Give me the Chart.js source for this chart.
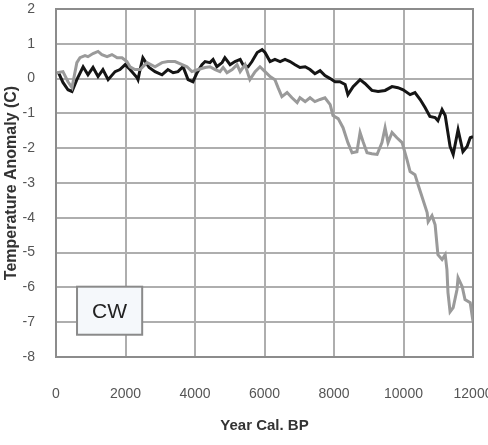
<!DOCTYPE html>
<html>
<head>
<meta charset="utf-8">
<script src="https://cdn.jsdelivr.net/npm/chart.js@4/dist/chart.umd.min.js"></script>
<style>
  html, body { margin: 0; padding: 0; background: #fff; }
  #wrap { width: 488px; height: 445px; }
</style>
</head>
<body>
<div id="wrap"><canvas id="cwChart" width="488" height="445"></canvas></div>
<script>
// Temperature anomaly records (years cal. BP vs degrees C)
const darkYears = [60, 200, 345, 460, 600, 780, 920, 1065, 1210, 1350, 1500, 1700, 1840, 1990, 2130, 2330, 2360, 2420, 2500, 2680, 2850,
  3050, 3220, 3370, 3510, 3655, 3800, 3940, 4060, 4200, 4290, 4430, 4520, 4630, 4780, 4860, 5010, 5150, 5300, 5380, 5530, 5640, 5790, 5930,
  6015, 6160, 6300, 6450, 6590, 6735, 6880, 7020, 7170, 7310, 7450, 7600, 7740, 7890, 8030, 8170, 8320, 8400, 8550, 8750, 8890,
  9090, 9270, 9470, 9670, 9840, 9990, 10190, 10330, 10480, 10620, 10760, 10910, 10990, 11110, 11200, 11340, 11430, 11570, 11710, 11830, 11920, 12000];
const darkTemps = [0.20, -0.11, -0.32, -0.37, -0.03, 0.34, 0.11, 0.32, 0.06, 0.26, -0.03, 0.20, 0.26, 0.40, 0.26, 0.03, -0.03, 0.26, 0.60, 0.32, 0.20,
  0.11, 0.26, 0.17, 0.20, 0.34, -0.03, -0.09, 0.17, 0.40, 0.49, 0.46, 0.55, 0.34, 0.46, 0.60, 0.40, 0.49, 0.55, 0.40, 0.34, 0.49, 0.75, 0.83,
  0.75, 0.49, 0.55, 0.49, 0.55, 0.49, 0.40, 0.32, 0.34, 0.26, 0.14, 0.23, 0.09, 0.00, -0.09, -0.09, -0.17, -0.46, -0.23, -0.03, -0.14,
  -0.34, -0.37, -0.34, -0.23, -0.26, -0.32, -0.46, -0.40, -0.60, -0.83, -1.09, -1.12, -1.21, -0.89, -1.06, -1.95, -2.18, -1.47, -2.10, -1.95, -1.70, -1.67];

const greyYears = [30, 200, 345, 460, 600, 690, 835, 920, 1065, 1210, 1320, 1470, 1610, 1760, 1900, 2040, 2130, 2270, 2420, 2620, 2850,
  3050, 3220, 3425, 3630, 3770, 3910, 4090, 4290, 4430, 4580, 4720, 4810, 4920, 5070, 5210, 5300, 5440, 5580, 5730, 5870, 6015,
  6160, 6300, 6390, 6500, 6650, 6790, 6940, 7020, 7170, 7310, 7450, 7600, 7740, 7890, 7970, 8120, 8260, 8400, 8520, 8660, 8750, 8835,
  8950, 9090, 9240, 9380, 9470, 9555, 9670, 9810, 9960, 10100, 10190, 10330, 10420, 10530, 10680, 10710, 10820, 10910, 10990, 11110,
  11200, 11250, 11280, 11340, 11430, 11540, 11570, 11690, 11770, 11920, 12000];
const greyTemps = [0.17, 0.20, -0.09, -0.26, 0.46, 0.60, 0.66, 0.63, 0.72, 0.78, 0.69, 0.63, 0.69, 0.60, 0.60, 0.49, 0.34, 0.26, 0.26, 0.46, 0.34,
  0.46, 0.49, 0.49, 0.40, 0.34, 0.20, 0.26, 0.32, 0.34, 0.26, 0.20, 0.32, 0.17, 0.26, 0.40, 0.20, 0.40, -0.03, 0.20, 0.34, 0.20,
  0.06, -0.03, -0.26, -0.52, -0.40, -0.55, -0.69, -0.55, -0.66, -0.55, -0.66, -0.60, -0.55, -0.75, -1.06, -1.15, -1.41, -1.84, -2.13, -2.10, -1.55, -1.81,
  -2.13, -2.16, -2.18, -1.84, -1.41, -1.84, -1.55, -1.70, -1.84, -2.33, -2.67, -2.76, -3.05, -3.39, -3.85, -4.11, -3.94, -4.20, -5.06, -5.20,
  -5.06, -5.49, -6.15, -6.70, -6.58, -6.06, -5.72, -5.98, -6.35, -6.44, -6.98];

const xTicks = [0, 2000, 4000, 6000, 8000, 10000, 12000];
const yTicks = [2, 1, 0, -1, -2, -3, -4, -5, -6, -7, -8];
const siteLabel = 'CW';

function toPoints(xs, ys) {
  return xs.map((x, i) => ({ x: x, y: ys[i] }));
}

// grid and plot frame, drawn from the tick arrays through the scales
const plotGrid = {
  id: 'plotGrid',
  beforeDatasetsDraw(chart) {
    const { ctx, chartArea: a, scales } = chart;
    ctx.save();
    ctx.strokeStyle = '#aeaeae';
    ctx.lineWidth = 2;
    ctx.beginPath();
    xTicks.forEach(v => {
      const px = Math.round(scales.x.getPixelForValue(v));
      ctx.moveTo(px, a.top);
      ctx.lineTo(px, a.bottom);
    });
    yTicks.forEach(v => {
      const py = Math.round(scales.y.getPixelForValue(v));
      ctx.moveTo(a.left, py);
      ctx.lineTo(a.right, py);
    });
    ctx.stroke();
    ctx.strokeStyle = '#8c8c8c';
    ctx.strokeRect(Math.round(a.left), Math.round(a.top), Math.round(a.right - a.left), Math.round(a.bottom - a.top));
    ctx.restore();
  }
};

// labelled box in the lower left corner of the plot
const siteBox = {
  id: 'siteBox',
  afterDatasetsDraw(chart) {
    const { ctx, scales } = chart;
    const x0 = scales.x.getPixelForValue(605);
    const x1 = scales.x.getPixelForValue(2480);
    const y0 = scales.y.getPixelForValue(-5.98);
    const y1 = scales.y.getPixelForValue(-7.36);
    ctx.save();
    ctx.fillStyle = '#f5f8fb';
    ctx.strokeStyle = '#8a8a8a';
    ctx.lineWidth = 2;
    ctx.fillRect(x0, y0, x1 - x0, y1 - y0);
    ctx.strokeRect(x0, y0, x1 - x0, y1 - y0);
    ctx.fillStyle = '#222';
    ctx.font = '21px "Liberation Sans", Arial, sans-serif';
    ctx.textAlign = 'center';
    ctx.textBaseline = 'middle';
    ctx.fillText(siteLabel, (x0 + x1) / 2, (y0 + y1) / 2 + 1);
    ctx.restore();
  }
};

const whiteBg = {
  id: 'whiteBg',
  beforeDraw(chart) {
    const ctx = chart.ctx;
    ctx.save();
    ctx.fillStyle = '#fff';
    ctx.fillRect(0, 0, chart.width, chart.height);
    ctx.restore();
  }
};

new Chart(document.getElementById('cwChart'), {
  type: 'scatter',
  data: {
    datasets: [
      {
        data: toPoints(greyYears, greyTemps),
        showLine: true,
        borderColor: '#9a9a9a',
        borderWidth: 3,
        pointRadius: 0,
        tension: 0
      },
      {
        data: toPoints(darkYears, darkTemps),
        showLine: true,
        borderColor: '#151515',
        borderWidth: 3,
        pointRadius: 0,
        tension: 0
      }
    ]
  },
  options: {
    responsive: false,
    devicePixelRatio: 1,
    animation: false,
    layout: { padding: { top: 9, right: 15, left: 0, bottom: 0 } },
    plugins: {
      legend: { display: false },
      tooltip: { enabled: false }
    },
    scales: {
      x: {
        type: 'linear',
        min: 0,
        max: 12000,
        afterBuildTicks: (scale) => { scale.ticks = xTicks.map(v => ({ value: v })); },
        afterFit: (scale) => { scale.height = 88; scale.paddingLeft = 0; scale.paddingRight = 0; },
        ticks: {
          color: '#555',
          font: { family: '"Liberation Sans", Arial, sans-serif', size: 14 },
          padding: 21,
          maxRotation: 0,
          autoSkip: false,
          callback: (v) => String(v)
        },
        grid: { display: false },
        border: { display: false },
        title: {
          display: true,
          text: 'Year Cal. BP',
          color: '#333',
          font: { family: '"Liberation Sans", Arial, sans-serif', size: 15, weight: 'bold' },
          padding: { top: 0, bottom: 10 }
        }
      },
      y: {
        min: -8,
        max: 2,
        afterBuildTicks: (scale) => { scale.ticks = yTicks.map(v => ({ value: v })); },
        afterFit: (scale) => { scale.width = 56; scale.paddingTop = 0; scale.paddingBottom = 0; },
        ticks: {
          color: '#555',
          font: { family: '"Liberation Sans", Arial, sans-serif', size: 14 },
          padding: 13
        },
        grid: { display: false },
        border: { display: false },
        title: {
          display: true,
          text: 'Temperature Anomaly (C)',
          color: '#333',
          font: { family: '"Liberation Sans", Arial, sans-serif', size: 16, weight: 'bold' },
          padding: { top: 2, bottom: 0 }
        }
      }
    }
  },
  plugins: [whiteBg, plotGrid, siteBox]
});
</script>
</body>
</html>
